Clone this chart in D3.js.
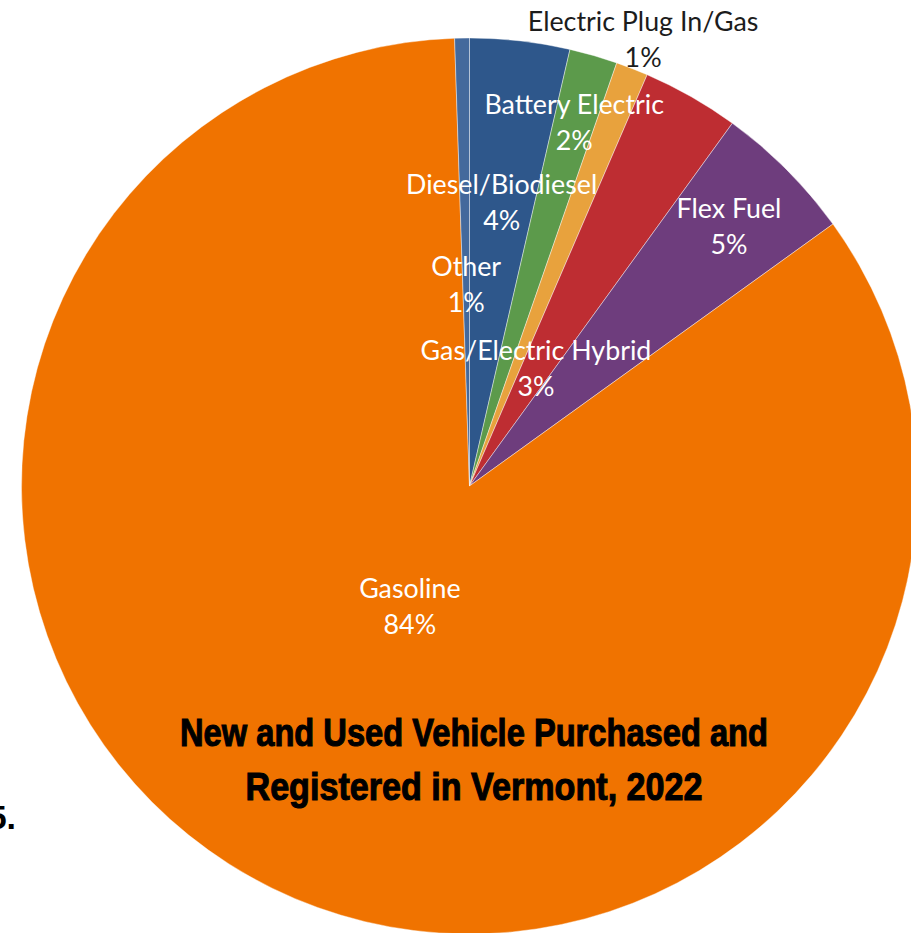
<!DOCTYPE html>
<html>
<head>
<meta charset="utf-8">
<script src="https://cdn.jsdelivr.net/npm/d3@7"></script>
<style>
  html, body { margin: 0; padding: 0; background: #ffffff; overflow: hidden; }
  svg { display: block; }
</style>
</head>
<body>
<svg id="chart" width="911" height="933"></svg>
<script>
// Fuel type of vehicles purchased and registered in Vermont, 2022 (share, %)
const categories = [
  "Diesel/Biodiesel",
  "Battery Electric",
  "Electric Plug In/Gas",
  "Gas/Electric Hybrid",
  "Flex Fuel",
  "Gasoline",
  "Other"
];
const shares = [3.6, 1.73, 1.16, 3.49, 5.08, 84.41, 0.53];
const titleLines = [
  "New and Used Vehicle Purchased and",
  "Registered in Vermont, 2022"
];

// Slice fills, one per category
const sliceColors = ["#2E578B", "#5C9A4B", "#E8A23D", "#BE2D32", "#6E3D7D", "#F07300", "#44699C"];
// Label distance from the centre, as a fraction of the radius
const labelRadius = [0.636, 0.844, 1.068, 0.30, 0.818, 0.302, 0.449];

const svg = d3.select("#chart");
const cx = 469.5, cy = 486, R = 448;

const total = d3.sum(shares);
const rows = categories.map((c, i) => ({ name: c, value: shares[i], i }));

const pie = d3.pie()
  .value(d => d.value)
  .sort(null)
  .startAngle(0)
  .endAngle(2 * Math.PI);

const arcs = pie(rows);
const arc = d3.arc().innerRadius(0).outerRadius(R);

const g = svg.append("g").attr("transform", `translate(${cx},${cy})`);

g.selectAll("path.slice")
  .data(arcs)
  .join("path")
  .attr("class", "slice")
  .attr("d", arc)
  .attr("fill", d => sliceColors[d.data.i])
  .attr("stroke", "#ffffff")
  .attr("stroke-opacity", 0.55)
  .attr("stroke-width", 0.75);

// Data labels: category name over rounded percentage
const fmt = v => Math.round(v / total * 100) + "%";
const labels = g.selectAll("text.label")
  .data(arcs)
  .join("text")
  .attr("class", "label")
  .attr("text-anchor", "middle")
  .attr("font-family", "Lato, 'Open Sans', sans-serif")
  .attr("font-size", 26.8)
  .attr("fill", d => labelRadius[d.data.i] > 1 ? "#1c1c1c" : "#ffffff")
  .attr("transform", d => {
    const a = (d.startAngle + d.endAngle) / 2;
    const r = R * labelRadius[d.data.i];
    return `translate(${r * Math.sin(a)},${-r * Math.cos(a)})`;
  });

labels.append("tspan").attr("x", 0).attr("y", -9).text(d => d.data.name);
labels.append("tspan").attr("x", 0).attr("y", 27).text(d => fmt(d.data.value));

// Chart title, set inside the large slice
const titleWidths = [588, 457];
svg.selectAll("text.title")
  .data(titleLines)
  .join("text")
  .attr("class", "title")
  .attr("x", 474)
  .attr("y", (d, i) => 746 + i * 54)
  .attr("text-anchor", "middle")
  .attr("font-family", "'Liberation Sans', Arial, sans-serif")
  .attr("font-weight", "bold")
  .attr("font-size", 39)
  .attr("fill", "#000000")
  .attr("stroke", "#000000")
  .attr("stroke-width", 1.1)
  .attr("textLength", (d, i) => titleWidths[i])
  .attr("lengthAdjust", "spacingAndGlyphs")
  .text(d => d);

// Fragment of the surrounding page's numbering at the left edge
svg.append("text")
  .attr("x", 16)
  .attr("y", 829)
  .attr("text-anchor", "end")
  .attr("font-family", "'Liberation Sans', Arial, sans-serif")
  .attr("font-weight", "bold")
  .attr("font-size", 34)
  .attr("fill", "#000000")
  .text("5.");
</script>
</body>
</html>
